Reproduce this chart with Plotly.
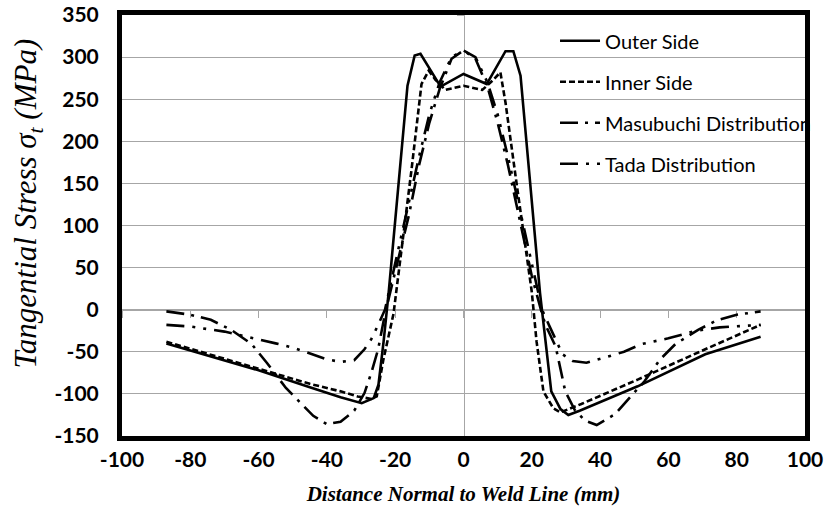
import plotly.graph_objects as go

# ---------------- data ----------------
X_TICKS = [-100, -80, -60, -40, -20, 0, 20, 40, 60, 80, 100]
Y_TICKS = [-150, -100, -50, 0, 50, 100, 150, 200, 250, 300, 350]
X_TICK_TEXT = [str(v) for v in X_TICKS]
Y_TICK_TEXT = [str(v) for v in Y_TICKS]

X_OUTER = [-87, -60, -45, -36, -29.8, -26.3, -24.9, -23.4, -21.9, -16.4, -14.3, -12.6,
           -6.7, 0, 6.8, 12.3, 14.6, 16.7, 22.4, 24, 25.7, 28.4, 30.7, 34, 51, 70.8, 87]
Y_OUTER = [-40, -72, -92, -104, -111, -105, -89, -38, 21, 266, 302, 304,
           265, 280, 268, 307, 307, 278, 20, -38, -97, -118, -125, -120, -91, -53, -32]

X_INNER = [-87, -60, -45, -36, -31, -27, -25.4, -23.5, -20.5, -15.2, -12.3, -10.2, -8.2,
           -5.3, 0, 5.5, 8.5, 10.8, 12.3, 15.2, 20, 21.4, 23.4, 26.3, 28.4, 34.5, 51, 70.8, 87]
Y_INNER = [-38, -70, -88, -97, -103, -106, -103, -60, -5, 167, 268, 284, 273,
           261, 266, 261, 272, 282, 246, 160, 21, -38, -97, -117, -122, -112, -83, -47, -18]

X_MAS = [-87, -80, -74, -68, -62, -57.6, -52, -48, -44, -40, -36, -32, -29, -27, -25, -23,
         -20, -16, -13, -10, -7, -3.5, 0, 3.5, 7, 10, 13, 16, 20, 23, 24, 27, 29.8, 32.7,
         35.7, 39, 44.4, 49, 53, 57.6, 62, 68.7, 74, 80, 87]
Y_MAS = [-2, -6, -12, -24, -41, -63, -93, -110, -126, -136, -133, -120, -99, -75, -47, -5,
         45, 112, 172, 222, 262, 298, 308, 298, 265, 222, 172, 115, 40, -5, -18, -44, -97, -120,
         -132, -137, -124, -103, -85, -59, -41, -24, -13, -6, -2]

X_TADA = [-87, -80, -70, -62, -55, -50, -45, -40, -36, -32, -29, -27, -25, -23, -20, -16,
          -13, -10, -7, -3.5, 0, 3.5, 7, 10, 13, 16, 20, 23, 25, 29, 32, 36, 42, 47, 52,
          60, 68, 75, 87]
Y_TADA = [-18, -20, -26, -33, -40, -45, -52, -59, -62, -60, -47, -35, -18, 0, 55, 128,
          182, 232, 270, 300, 308, 300, 270, 232, 182, 128, 55, 0, -18, -53, -61, -63, -56, -50, -41,
          -34, -25, -21, -18]

SERIES = [
    ("Outer Side", X_OUTER, Y_OUTER, "solid"),
    ("Inner Side", X_INNER, Y_INNER, "6px,3px"),
    ("Masubuchi Distribution", X_MAS, Y_MAS, "18px,7px,3px,7px"),
    ("Tada Distribution", X_TADA, Y_TADA, "18px,8px,3px,8px,3px,8px"),
]

fig = go.Figure()
for i, (name, xs, ys, dash) in enumerate(SERIES):
    fig.add_trace(go.Scatter(
        x=xs, y=ys, mode="lines", name=name, legendgroup=f"g{i}",
        line=dict(color="black", width=2.6, dash=dash),
    ))

# helper trace to attach the centre (zero) axes
fig.add_trace(go.Scatter(x=[], y=[], xaxis="x2", yaxis="y2", showlegend=False,
                         hoverinfo="skip"))

tick_font = dict(family="Lato", size=21, color="black", weight="bold")
Y_RANGE = [Y_TICKS[0], Y_TICKS[-1]]
X_RANGE = [X_TICKS[0], X_TICKS[-1]]
Y0_POS = (0 - Y_RANGE[0]) / (Y_RANGE[1] - Y_RANGE[0])
X0_POS = (0 - X_RANGE[0]) / (X_RANGE[1] - X_RANGE[0])

fig.update_layout(
    width=828, height=516,
    margin=dict(l=122, r=21, t=15, b=80),
    paper_bgcolor="white", plot_bgcolor="white",
    showlegend=True,
    legend=dict(
        x=0.634, y=0.985, xanchor="left", yanchor="top",
        bgcolor="rgba(0,0,0,0)", borderwidth=0,
        font=dict(family="Lato", size=20, color="black"),
        tracegroupgap=12, itemwidth=40,
    ),
    xaxis=dict(
        range=X_RANGE, tickvals=X_TICKS, ticktext=X_TICK_TEXT,
        showgrid=False, zeroline=False, ticks="", automargin=False,
        showline=True, mirror=True, linecolor="black", linewidth=5,
        tickfont=tick_font, ticklabelstandoff=1, ticklabeloverflow="allow",
        title=dict(text="<b><i>Distance Normal to Weld Line (mm)</i></b>",
                   font=dict(family="Liberation Serif", size=21, color="black"),
                   standoff=18),
    ),
    yaxis=dict(
        range=Y_RANGE, tickvals=Y_TICKS, ticktext=Y_TICK_TEXT,
        showgrid=True, gridcolor="#a6a6a6", gridwidth=1,
        zeroline=False, ticks="", automargin=False,
        showline=True, mirror=True, linecolor="black", linewidth=5,
        tickfont=tick_font, ticklabelstandoff=14, ticklabeloverflow="allow",
    ),
    xaxis2=dict(
        overlaying="x", anchor="free", position=Y0_POS, side="bottom",
        range=X_RANGE, tickvals=X_TICKS,
        showticklabels=False, showgrid=False, zeroline=False,
        showline=True, linecolor="#a6a6a6", linewidth=1,
        ticks="outside", ticklen=7, tickcolor="#a6a6a6", tickwidth=1,
        layer="below traces",
    ),
    yaxis2=dict(
        overlaying="y", anchor="free", position=X0_POS, side="left",
        range=Y_RANGE, tickvals=Y_TICKS,
        showticklabels=False, showgrid=False, zeroline=False,
        showline=True, linecolor="#a6a6a6", linewidth=1,
        ticks="outside", ticklen=7, tickcolor="#a6a6a6", tickwidth=1,
        layer="below traces",
    ),
    annotations=[dict(
        text="<i>Tangential Stress σ<sub>t</sub> (MPa)</i>",
        textangle=-90, xref="paper", yref="paper",
        x=-0.137, y=0.553, xanchor="center", yanchor="middle", showarrow=False,
        font=dict(family="Liberation Serif", size=31, color="black"),
    )],
)

fig.write_html("out.html")
